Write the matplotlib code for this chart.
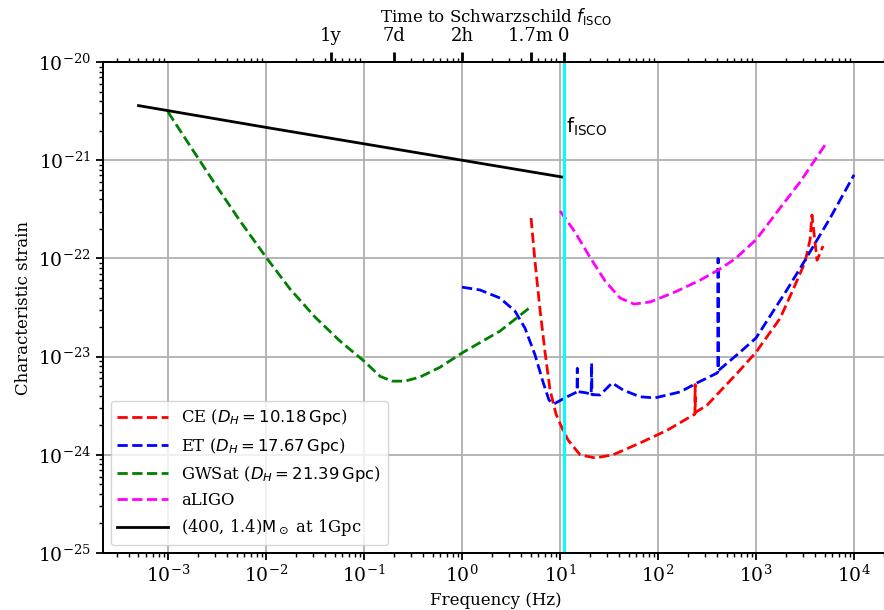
import numpy as np
import matplotlib
matplotlib.use("Agg")
import matplotlib.pyplot as plt

plt.rcParams["font.family"] = "serif"
plt.rcParams["font.serif"] = ["DejaVu Serif"]
plt.rcParams["font.size"] = 12
plt.rcParams["axes.linewidth"] = 1.3

# sensitivity curves (frequency in Hz, characteristic strain)
f_ce = [5.06, 5.56, 6.25, 7.03, 7.9, 9.1, 10.5, 12.1, 16.0, 22.8, 34.7, 65.5, 124, 228,
        238, 239, 240, 316, 687, 1000, 1757, 2386, 3163, 3556, 3720, 4190, 4830]
h_ce = [2.58e-22, 9.2e-23, 3.0e-23, 1.11e-23, 4.6e-24, 2.6e-24, 1.87e-24, 1.41e-24, 1.0e-24,
        9.3e-25, 1.0e-24, 1.32e-24, 1.78e-24, 2.54e-24, 2.6e-24, 5.2e-24, 2.7e-24, 3.2e-24,
        7.3e-24, 1.11e-23, 2.45e-23, 4.8e-23, 9.2e-23, 1.55e-22, 2.77e-22, 9.6e-23, 1.34e-22]

f_et = [1.0, 1.53, 2.44, 3.47, 4.39, 5.56, 6.71, 7.72, 8.68, 11.2, 14.9, 15.0, 15.1, 18.0,
        20.8, 21.0, 21.2, 25.6, 34.0, 44.0, 65.5, 93.0, 168, 250, 400, 408, 410, 412, 687,
        1000, 2070, 3163, 5690, 10000]
h_et = [5.1e-23, 4.77e-23, 3.95e-23, 2.91e-23, 1.95e-23, 1.04e-23, 5.5e-24, 3.6e-24, 3.3e-24,
        3.8e-24, 4.37e-24, 7.6e-24, 4.4e-24, 4.3e-24, 4.16e-24, 8.6e-24, 4.1e-24, 4.07e-24,
        5.4e-24, 4.57e-24, 3.9e-24, 3.8e-24, 4.37e-24, 5.4e-24, 6.8e-24, 7.0e-24, 1.0e-22,
        7.2e-24, 1.11e-23, 1.55e-23, 4.8e-23, 9.6e-23, 2.57e-22, 7.1e-22]

f_gwsat = [1e-3, 1.68e-3, 3.02e-3, 5.43e-3, 1e-2, 0.0176, 0.0316, 0.0569, 0.1, 0.146, 0.193,
           0.262, 0.373, 0.597, 1.0, 2.44, 5.0]
h_gwsat = [3.1e-21, 1.40e-21, 5.73e-22, 2.41e-22, 1.03e-22, 4.88e-23, 2.53e-23, 1.44e-23,
           9.0e-24, 6.3e-24, 5.63e-24, 5.63e-24, 6.2e-24, 7.8e-24, 1.09e-23, 1.82e-23, 3.2e-23]

f_aligo = [10, 14.2, 20.2, 28.8, 41, 56.9, 82.8, 149, 268, 410, 611, 1000, 1757, 2812, 5060]
h_aligo = [3.04e-22, 1.86e-22, 1.03e-22, 5.9e-23, 3.95e-23, 3.43e-23, 3.6e-23, 4.55e-23,
           6.0e-23, 7.6e-23, 9.9e-23, 1.55e-22, 3.26e-22, 6.0e-22, 1.43e-21]

# inspiral signal of the (400, 1.4) Msun binary at 1 Gpc
f_src = [5e-4, 1e-2, 1.0, 10.96]
h_src = [3.6e-21, 2.16e-21, 1.0e-21, 6.7e-22]
f_isco = 10.96

# time to ISCO axis
t_freqs = [0.0458, 0.2, 1.0, 5.0, f_isco]
t_labels = ["1y", "7d", "2h", "1.7m", "0"]

fig = plt.figure(figsize=(8.84, 6.10), dpi=100)
ax = fig.add_axes([0.1162, 0.0934, 0.8904, 0.8049])

ax.loglog(f_ce, h_ce, "--", color="red", lw=2, label=r"CE ($D_H = 10.18\,\mathrm{Gpc}$)")
ax.loglog(f_et, h_et, "--", color="blue", lw=2, label=r"ET ($D_H = 17.67\,\mathrm{Gpc}$)")
ax.loglog(f_gwsat, h_gwsat, "--", color="green", lw=2,
          label=r"GWSat ($D_H = 21.39\,\mathrm{Gpc}$)")
ax.loglog(f_aligo, h_aligo, "--", color="magenta", lw=2, label="aLIGO")
ax.loglog(f_src, h_src, "-", color="black", lw=2, label=r"(400, 1.4)$\rm M_\odot$ at 1Gpc")
ax.axvline(f_isco, color="cyan", lw=2.2)
ax.text(f_isco * 1.05, 2.2e-21, r"$\rm f_{ISCO}$", fontsize=14, va="center")

ax.set_ylim(1e-25, 1e-20)
ax.set_xlabel("Frequency (Hz)")
ax.set_ylabel("Characteristic strain")
ax.grid(True, which="major", color="#b0b0b0", lw=1.3)
ax.tick_params(which="major", width=1.3, length=5, labelsize=13.5)
ax.tick_params(which="minor", width=1.0, length=3)
ax.legend(loc="lower left", fontsize=11.8, handlelength=3.1)

ax2 = ax.twiny()
ax2.set_xscale("log")
ax2.set_xlim(ax.get_xlim())
ax2.set_xticks(t_freqs)
ax2.set_xticklabels(t_labels)
ax2.tick_params(which="major", width=2, length=7, pad=5, labelsize=13)
ax2.tick_params(which="minor", width=1.0, length=3)
ax2.set_xlabel(r"Time to Schwarzschild $f_{\rm ISCO}$", labelpad=4)

fig.savefig("out.png", dpi=100)
